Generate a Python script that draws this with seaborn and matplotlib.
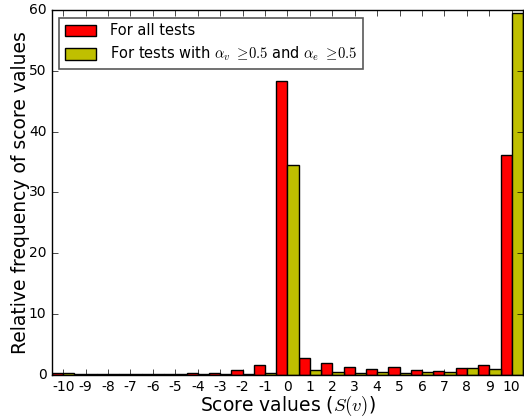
import matplotlib
matplotlib.use("Agg")
import matplotlib.pyplot as plt
import seaborn as sns
import pandas as pd

scores = list(range(-10, 11))
all_tests = [0.3, 0.05, 0.05, 0.05, 0.1, 0.1, 0.2, 0.25, 0.7, 1.6, 48.4,
             2.7, 1.95, 1.2, 0.9, 1.2, 0.8, 0.6, 1.1, 1.6, 36.2]
filtered_tests = [0.3, 0.02, 0.02, 0.02, 0.02, 0.02, 0.05, 0.05, 0.12, 0.3, 34.5,
                  0.8, 0.5, 0.3, 0.35, 0.25, 0.5, 0.35, 1.05, 1.0, 59.5]
series_labels = ["For all tests",
                 r"For tests with $\alpha_v$ $\geq\!0.5$ and $\alpha_e$ $\geq\!0.5$"]

df = pd.DataFrame({
    "score": scores * 2,
    "freq": all_tests + filtered_tests,
    "group": [series_labels[0]] * len(scores) + [series_labels[1]] * len(scores),
})

plt.style.use("classic")
plt.rcParams.update({
    "figure.facecolor": "white",
    "savefig.facecolor": "white",
    "font.family": "DejaVu Sans",
    "mathtext.fontset": "cm",
})

fig = plt.figure(figsize=(5.24, 4.19), dpi=100)
ax = fig.add_axes([0.0992, 0.106, 0.8988, 0.8695])

sns.barplot(data=df, x="score", y="freq", hue="group", order=scores,
            hue_order=series_labels, palette=["#ff0000", "#bfbf00"],
            width=1.0, dodge=True, saturation=1.0, edgecolor="black",
            linewidth=1.0, errorbar=None, ax=ax)

ax.set_xlim(-0.5, len(scores) - 0.5)
ax.set_ylim(0, 60)
ax.set_xticks(range(len(scores)))
ax.set_xticklabels([str(s) for s in scores], fontsize=10)
ax.set_yticks(range(0, 61, 10))
ax.set_yticklabels([str(v) for v in range(0, 61, 10)], fontsize=10)
ax.tick_params(direction="in", length=4, top=True, right=True)
ax.set_xlabel(r"Score values ($S(v)$)", fontsize=13.5, labelpad=0)
ax.set_ylabel("Relative frequency of score values", fontsize=13.5, labelpad=-1)

leg = ax.legend(loc="upper left", fontsize=10.5, frameon=True, fancybox=False,
                shadow=False, handlelength=2.1, handleheight=0.85,
                handletextpad=0.95, labelspacing=0.45, borderaxespad=0.5)
leg.get_frame().set_edgecolor("0.35")
leg.get_frame().set_linewidth(1.2)

fig.savefig("out.png", dpi=100)
